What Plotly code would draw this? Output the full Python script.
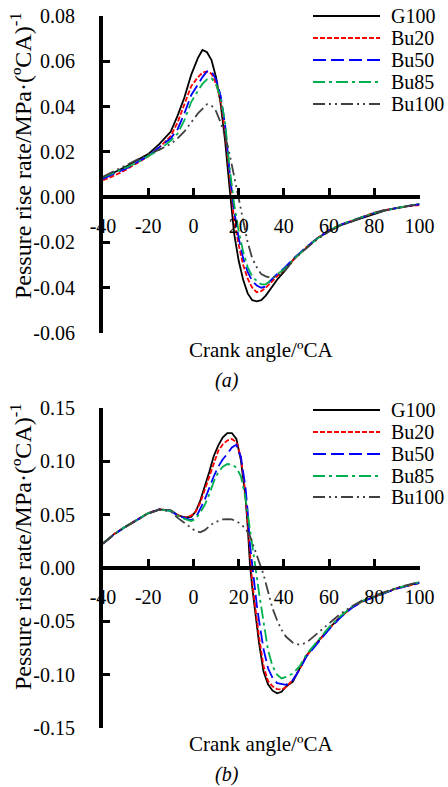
import plotly.graph_objects as go

# ---------------- data ----------------
series_names = ["G100", "Bu20", "Bu50", "Bu85", "Bu100"]

x_a = [-40, -35, -30, -25, -20, -15, -10, -7, -4, -1, 2, 4, 6, 8, 10, 12, 14, 16, 18, 20,
       22, 24, 26, 28, 30, 32, 34, 37, 40, 45, 50, 55, 60, 65, 70, 75, 80, 85, 90, 95, 100]

g100_a = [0.0085, 0.011, 0.0134, 0.0163, 0.019, 0.0235, 0.029, 0.036, 0.044, 0.054, 0.0615, 0.065,
          0.064, 0.0605, 0.053, 0.0415, 0.025, 0.004, -0.016, -0.028, -0.0365, -0.0425, -0.0455,
          -0.046, -0.0455, -0.0435, -0.0405, -0.0365, -0.033, -0.0265, -0.0225, -0.018, -0.015,
          -0.0125, -0.0107, -0.009, -0.0072, -0.0058, -0.0048, -0.0039, -0.0031]
bu20_a = [0.0075, 0.0095, 0.012, 0.015, 0.018, 0.022, 0.027, 0.033, 0.0415, 0.049, 0.053, 0.055,
          0.0555, 0.0545, 0.050, 0.043, 0.029, 0.008, -0.010, -0.021, -0.030, -0.036, -0.040,
          -0.042, -0.0415, -0.040, -0.038, -0.035, -0.032, -0.027, -0.022, -0.018, -0.0145,
          -0.0122, -0.0105, -0.0087, -0.0068, -0.0056, -0.0047, -0.004, -0.0035]
bu50_a = [0.008, 0.0105, 0.0125, 0.0155, 0.0182, 0.0222, 0.026, 0.030, 0.037, 0.045, 0.050, 0.053,
          0.0555, 0.0555, 0.052, 0.045, 0.032, 0.011, -0.006, -0.018, -0.027, -0.033, -0.037,
          -0.039, -0.040, -0.0395, -0.037, -0.034, -0.0315, -0.0265, -0.022, -0.018, -0.0148,
          -0.0122, -0.0105, -0.0088, -0.007, -0.0057, -0.0047, -0.0039, -0.0032]
bu85_a = [0.0088, 0.0108, 0.013, 0.0152, 0.018, 0.021, 0.025, 0.028, 0.034, 0.042, 0.047, 0.050,
          0.052, 0.0525, 0.050, 0.044, 0.033, 0.013, -0.003, -0.015, -0.024, -0.031, -0.035,
          -0.037, -0.0385, -0.0385, -0.037, -0.034, -0.032, -0.0268, -0.0222, -0.0182, -0.0148,
          -0.0122, -0.0104, -0.0087, -0.0069, -0.0057, -0.0046, -0.0038, -0.003]
bu100_a = [0.009, 0.0115, 0.0138, 0.0165, 0.019, 0.021, 0.0235, 0.026, 0.029, 0.033, 0.037, 0.039,
           0.041, 0.0405, 0.038, 0.033, 0.027, 0.019, 0.009, -0.001, -0.011, -0.020, -0.027,
           -0.031, -0.034, -0.035, -0.0355, -0.035, -0.033, -0.027, -0.0225, -0.0185, -0.0152,
           -0.0125, -0.0108, -0.0088, -0.0068, -0.0057, -0.0047, -0.0039, -0.0032]

x_b = [-40, -35, -30, -25, -20, -15, -10, -7, -4, -1, 1, 3, 5, 7, 9, 11, 13, 15, 17, 19, 21,
       23, 24, 25, 26, 27, 28, 29, 31, 33, 35, 37, 39, 41, 44, 47, 50, 55, 60, 65, 70, 75, 80,
       85, 90, 95, 100]

g100_b = [0.023, 0.032, 0.0388, 0.0453, 0.0513, 0.055, 0.054, 0.0497, 0.0475, 0.048, 0.053, 0.063,
          0.076, 0.090, 0.105, 0.115, 0.1225, 0.1265, 0.1265, 0.121, 0.101, 0.067, 0.039, 0.004,
          -0.018, -0.037, -0.054, -0.070, -0.097, -0.109, -0.115, -0.1175, -0.116, -0.111,
          -0.1065, -0.094, -0.082, -0.069, -0.0566, -0.0457, -0.037, -0.031, -0.0269, -0.0228,
          -0.019, -0.0163, -0.0135]
bu20_b = [0.023, 0.032, 0.039, 0.0455, 0.0515, 0.0552, 0.0538, 0.0495, 0.0472, 0.049, 0.053, 0.061,
          0.073, 0.086, 0.099, 0.110, 0.116, 0.1195, 0.121, 0.118, 0.104, 0.070, 0.043, 0.010,
          -0.013, -0.031, -0.048, -0.064, -0.092, -0.106, -0.111, -0.1135, -0.114, -0.1115,
          -0.105, -0.0945, -0.0825, -0.0695, -0.0568, -0.046, -0.0372, -0.031, -0.0268, -0.0228,
          -0.0192, -0.0165, -0.0142]
bu50_b = [0.023, 0.0315, 0.0388, 0.0452, 0.0512, 0.055, 0.0535, 0.049, 0.047, 0.045, 0.047, 0.055,
          0.064, 0.075, 0.086, 0.095, 0.102, 0.107, 0.113, 0.1155, 0.104, 0.076, 0.053, 0.022,
          0.002, -0.017, -0.034, -0.049, -0.076, -0.094, -0.103, -0.108, -0.109, -0.1095,
          -0.105, -0.095, -0.083, -0.070, -0.0575, -0.0465, -0.0375, -0.0312, -0.027, -0.023,
          -0.0193, -0.0165, -0.014]
bu85_b = [0.0232, 0.0318, 0.039, 0.0455, 0.0515, 0.0548, 0.0535, 0.049, 0.046, 0.044, 0.046, 0.052,
          0.059, 0.069, 0.081, 0.090, 0.095, 0.0975, 0.097, 0.094, 0.086, 0.066, 0.052, 0.035,
          0.020, 0.006, -0.008, -0.023, -0.052, -0.077, -0.092, -0.100, -0.1035, -0.102,
          -0.099, -0.092, -0.081, -0.068, -0.0555, -0.0452, -0.0365, -0.0305, -0.0265, -0.0225,
          -0.0188, -0.016, -0.0132]
bu100_b = [0.0228, 0.0315, 0.0385, 0.045, 0.051, 0.0548, 0.053, 0.047, 0.042, 0.037, 0.0345, 0.0335,
           0.0355, 0.039, 0.0425, 0.044, 0.0455, 0.0458, 0.0455, 0.044, 0.041, 0.037, 0.034, 0.030,
           0.024, 0.018, 0.012, 0.007, -0.006, -0.022, -0.038, -0.049, -0.058, -0.0645,
           -0.070, -0.072, -0.070, -0.061, -0.052, -0.043, -0.036, -0.030, -0.026, -0.022,
           -0.0185, -0.0158, -0.013]

x_tick_vals = [-40, -20, 0, 20, 40, 60, 80, 100]
x_tick_text = ["-40", "-20", "0", "20", "40", "60", "80", "100"]
y_tick_vals_a = [-0.06, -0.04, -0.02, 0.0, 0.02, 0.04, 0.06, 0.08]
y_tick_text_a = ["-0.06", "-0.04", "-0.02", "0.00", "0.02", "0.04", "0.06", "0.08"]
y_tick_vals_b = [-0.15, -0.10, -0.05, 0.0, 0.05, 0.10, 0.15]
y_tick_text_b = ["-0.15", "-0.10", "-0.05", "0.00", "0.05", "0.10", "0.15"]

x_title = "Crank angle/ºCA"
y_title = "Pessure rise rate/MPa·(ºCA)<sup>-1</sup>"
captions = ["<i>(a)</i>", "<i>(b)</i>"]

# ---------------- styles ----------------
colors = ["#000000", "#FF0000", "#0000FF", "#00B050", "#404040"]
dashes = ["solid", "5px,2px", "13px,5px", "12px,4px,3px,4px", "12px,4px,2px,4px,2px,4px"]
widths = [1.8, 1.8, 1.8, 1.8, 1.8]
FONT = "Liberation Serif, Times New Roman, serif"

W, H = 448, 787


def fx(p):
    return p / W


def fy(p):
    return 1 - p / H


panels = [
    dict(x=x_a, ys=[g100_a, bu20_a, bu50_a, bu85_a, bu100_a], yr=[-0.06, 0.08],
         tv=y_tick_vals_a, tt=y_tick_text_a, top=16, bot=333,
         ytitle_y=156, xtitle_y=350, cap_y=380, leg_y=[16, 38, 60, 82, 104]),
    dict(x=x_b, ys=[g100_b, bu20_b, bu50_b, bu85_b, bu100_b], yr=[-0.15, 0.15],
         tv=y_tick_vals_b, tt=y_tick_text_b, top=408, bot=728,
         ytitle_y=547, xtitle_y=744, cap_y=774, leg_y=[410, 432, 454, 476, 497]),
]

fig = go.Figure()
annotations = []
shapes = []
xdom = [fx(103), fx(419.5)]

for pi, p in enumerate(panels):
    sfx = "" if pi == 0 else str(pi + 1)
    for name, yv, c, d, w in zip(series_names, p["ys"], colors, dashes, widths):
        fig.add_trace(go.Scatter(x=p["x"], y=yv, mode="lines", name=name,
                                 line=dict(color=c, dash=d, width=w),
                                 xaxis="x" + sfx, yaxis="y" + sfx, showlegend=False))
    ydom = [fy(p["bot"]), fy(p["top"])]
    y0, y1 = p["yr"]
    zero_pos = ydom[0] + (0 - y0) / (y1 - y0) * (ydom[1] - ydom[0])
    fig.update_layout(**{
        "xaxis" + sfx: dict(domain=xdom, range=[-40, 100], anchor="free", position=zero_pos,
                            tickvals=x_tick_vals, ticktext=x_tick_text, ticks="inside",
                            ticklen=7, tickwidth=3, tickcolor="black", showline=True,
                            linewidth=4, linecolor="black", showgrid=False, zeroline=False,
                            automargin=False,
                            tickfont=dict(family=FONT, size=20, color="black"),
                            ticklabelstandoff=10),
        "yaxis" + sfx: dict(domain=ydom, range=p["yr"], anchor="x" + sfx,
                            tickvals=p["tv"], ticktext=p["tt"], ticks="inside",
                            ticklen=7, tickwidth=3, tickcolor="black", showline=True,
                            linewidth=4, linecolor="black", showgrid=False, zeroline=False,
                            automargin=False,
                            tickfont=dict(family=FONT, size=20, color="black"),
                            ticklabelstandoff=20),
    })
    annotations.append(dict(x=fx(21), y=fy(p["ytitle_y"]), xref="paper", yref="paper",
                            xanchor="center", yanchor="middle",
                            text=y_title, textangle=-90, showarrow=False,
                            font=dict(family=FONT, size=24, color="black")))
    annotations.append(dict(x=fx(261), y=fy(p["xtitle_y"]), xref="paper", yref="paper",
                            xanchor="center", yanchor="middle",
                            text=x_title, showarrow=False,
                            font=dict(family=FONT, size=21, color="black")))
    annotations.append(dict(x=fx(227), y=fy(p["cap_y"]), xref="paper", yref="paper",
                            xanchor="center", yanchor="middle",
                            text=captions[pi], showarrow=False,
                            font=dict(family=FONT, size=20, color="black")))
    for name, c, d, w, ly in zip(series_names, colors, dashes, widths, p["leg_y"]):
        shapes.append(dict(type="line", xref="paper", yref="paper", x0=fx(313), x1=fx(380),
                           y0=fy(ly), y1=fy(ly), line=dict(color=c, dash=d, width=w)))
        annotations.append(dict(x=fx(389), y=fy(ly), xref="paper", yref="paper", text=name,
                                showarrow=False, xanchor="left", yanchor="middle",
                                font=dict(family=FONT, size=20, color="black")))

fig.update_layout(width=W, height=H, margin=dict(l=0, r=0, t=0, b=0),
                  paper_bgcolor="white", plot_bgcolor="white",
                  annotations=annotations, shapes=shapes, showlegend=False)

fig.write_html("out.html", config={"displayModeBar": False},
               post_script="document.body.style.margin='0';document.body.style.overflow='hidden';")
